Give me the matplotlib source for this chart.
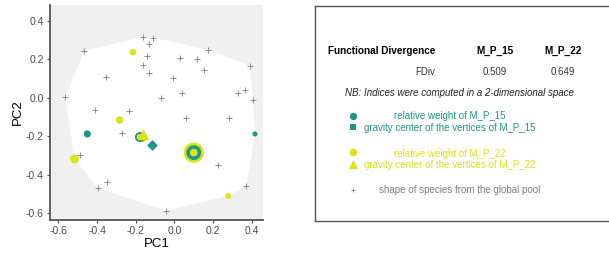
import numpy as np
import matplotlib.pyplot as plt

plt.rcParams['font.family'] = ['Liberation Sans', 'DejaVu Sans']

# species of the global pool (crosses)
sp_x = [-0.164, -0.109, -0.129, -0.140, -0.164, -0.129, -0.466, -0.353, -0.564, -0.409,
        -0.236, -0.269, -0.488, -0.397, -0.347, -0.045, -0.067, -0.005, 0.029, 0.040,
        0.059, 0.119, 0.152, 0.171, 0.388, 0.326, 0.366, 0.407, 0.281, 0.224, 0.371]
sp_y = [0.317, 0.313, 0.277, 0.217, 0.170, 0.130, 0.244, 0.108, 0.006, -0.065,
        -0.071, -0.185, -0.299, -0.467, -0.437, -0.588, -0.003, 0.101, 0.206, 0.025,
        -0.105, 0.203, 0.142, 0.251, 0.166, 0.025, 0.038, -0.010, -0.105, -0.349, -0.460]

# assemblage M_P_15
p15_x = [-0.450, 0.416, -0.178, 0.100]
p15_y = [-0.188, -0.188, -0.204, -0.285]
p15_w = [0.06, 0.03, 0.31, 0.60]
g15 = (-0.114, -0.244)

# assemblage M_P_22
p22_x = [-0.214, -0.283, -0.516, 0.278, -0.164, 0.100]
p22_y = [0.237, -0.116, -0.318, -0.510, -0.206, -0.285]
p22_w = [0.06, 0.08, 0.11, 0.05, 0.13, 0.57]
g22 = (-0.164, -0.190)

fdiv = {'M_P_15': 0.509, 'M_P_22': 0.649}

teal = '#1F968B'
yellow = '#DCE319'


def convex_hull(pts):
    pts = sorted(set(pts))
    def cross(o, a, b):
        return (a[0] - o[0]) * (b[1] - o[1]) - (a[1] - o[1]) * (b[0] - o[0])
    lower, upper = [], []
    for p in pts:
        while len(lower) >= 2 and cross(lower[-2], lower[-1], p) <= 0:
            lower.pop()
        lower.append(p)
    for p in reversed(pts):
        while len(upper) >= 2 and cross(upper[-2], upper[-1], p) <= 0:
            upper.pop()
        upper.append(p)
    return lower[:-1] + upper[:-1]


fig = plt.figure(figsize=(6.09, 2.66), dpi=100)
ax = fig.add_axes([0.082, 0.173, 0.350, 0.808])
ax.set_facecolor('#F0F0F0')

all_pts = list(zip(sp_x, sp_y)) + list(zip(p15_x, p15_y)) + list(zip(p22_x, p22_y))
hull = np.array(convex_hull(all_pts))
ax.fill(hull[:, 0], hull[:, 1], color='white', lw=0, zorder=1)

ax.scatter(sp_x, sp_y, marker='+', s=14, color='#7F7F7F', linewidths=0.6, zorder=2)
ax.scatter(p22_x, p22_y, s=np.array(p22_w) * 370, color=yellow, lw=0, zorder=3)
# small weights are drawn as full discs, large ones as rings
w15 = np.array(p15_w)
small = w15 < 0.2
fc15 = [teal if sm else 'none' for sm in small]
ax.scatter(p15_x, p15_y, s=np.where(small, w15 * 450, w15 * 110), facecolors=fc15,
           edgecolors=teal, linewidths=np.where(small, 0, w15 * 4.3), zorder=4)
ax.scatter([g15[0]], [g15[1]], marker='D', s=30, color=teal, lw=0, zorder=5)
ax.scatter([g22[0]], [g22[1]], marker='^', s=65, color=yellow, lw=0, zorder=5)

ax.set_xlim(-0.643, 0.458)
ax.set_ylim(-0.635, 0.482)
ax.set_xticks([-0.6, -0.4, -0.2, 0.0, 0.2, 0.4])
ax.set_yticks([-0.6, -0.4, -0.2, 0.0, 0.2, 0.4])
ax.set_xticklabels(['-0.6', '-0.4', '-0.2', '0.0', '0.2', '0.4'])
ax.set_yticklabels(['-0.6', '-0.4', '-0.2', '0.0', '0.2', '0.4'])
ax.tick_params(labelsize=7.5, colors='#4D4D4D', length=2.5, width=0.8, pad=2)
ax.set_xlabel('PC1', fontsize=9.5, labelpad=1)
ax.set_ylabel('PC2', fontsize=9.5, labelpad=1)
for s in ['top', 'right']:
    ax.spines[s].set_visible(False)
for s in ['left', 'bottom']:
    ax.spines[s].set_color('#555555')
    ax.spines[s].set_linewidth(1.3)

# legend / table panel, coordinates in pixels
lg = fig.add_axes([0.517, 0.170, 0.49, 0.809])
lg.set_xlim(315, 613.4)
lg.set_ylim(220.7, 5.7)
lg.set_xticks([])
lg.set_yticks([])
for s in lg.spines.values():
    s.set_color('#555555')
    s.set_linewidth(1.0)

fs = 7
lg.text(328, 50.7, 'Functional Divergence', fontsize=7.2, fontweight='bold', va='center')
lg.text(495, 50.7, 'M_P_15', fontsize=7.2, fontweight='bold', ha='center', va='center')
lg.text(563, 50.7, 'M_P_22', fontsize=7.2, fontweight='bold', ha='center', va='center')
lg.text(435, 71.7, 'FDiv', fontsize=fs, ha='right', va='center', color='#333333')
lg.text(495, 71.7, '%.3f' % fdiv['M_P_15'], fontsize=fs, ha='center', va='center', color='#333333')
lg.text(563, 71.7, '%.3f' % fdiv['M_P_22'], fontsize=fs, ha='center', va='center', color='#333333')
lg.text(460, 92.7, 'NB: Indices were computed in a 2-dimensional space', fontsize=fs,
        style='italic', ha='center', va='center', color='#222222')

lg.scatter([352.7], [116], s=28, color=teal, lw=0)
lg.scatter([352.7], [127.5], marker='s', s=24, color=teal, lw=0)
lg.text(450, 116.5, 'relative weight of M_P_15', fontsize=fs, ha='center', va='center', color=teal)
lg.text(450, 128, 'gravity center of the vertices of M_P_15', fontsize=fs, ha='center',
        va='center', color=teal)

lg.scatter([352.7], [152], s=30, color=yellow, lw=0)
lg.scatter([352.7], [163.5], marker='^', s=45, color=yellow, lw=0)
lg.text(450, 153.5, 'relative weight of M_P_22', fontsize=fs, ha='center', va='center', color=yellow)
lg.text(450, 164.5, 'gravity center of the vertices of M_P_22', fontsize=fs, ha='center',
        va='center', color=yellow)

lg.scatter([352.7], [190], marker='+', s=12, color='#7F7F7F', linewidths=0.6)
lg.text(460, 190, 'shape of species from the global pool', fontsize=fs, ha='center',
        va='center', color='#7F7F7F')

fig.savefig('out.png', dpi=100)
